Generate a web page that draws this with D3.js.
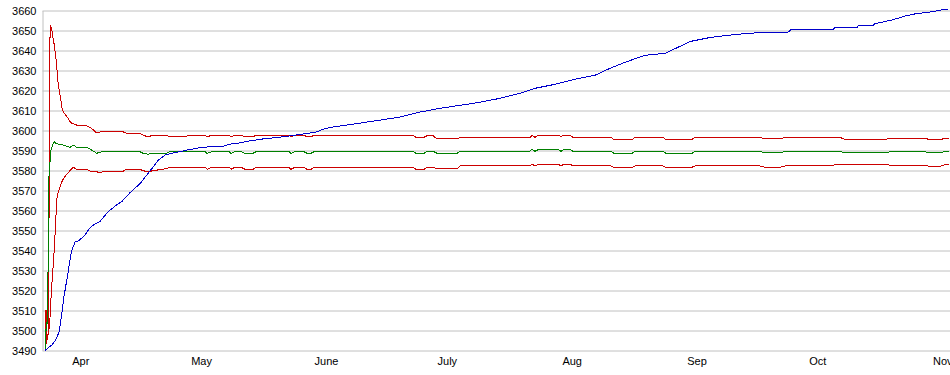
<!DOCTYPE html>
<html><head><meta charset="utf-8">
<script src="https://cdn.jsdelivr.net/npm/d3@7"></script>
<style>
body{margin:0;background:#fff}
svg{display:block}
text{font-family:"Liberation Sans",Arial,sans-serif;font-size:11px;fill:#000}
</style></head>
<body><svg id="c" width="950" height="375"></svg>
<script>
// ---- data (day offsets from start date, values) ----
const startDate = "2011-03-23";
const endDate = "2011-11-03";
const yTicks = [3490,3500,3510,3520,3530,3540,3550,3560,3570,3580,3590,3600,3610,3620,3630,3640,3650,3660];
const monthTicks = ["2011-04-01","2011-05-01","2011-06-01","2011-07-01","2011-08-01","2011-09-01","2011-10-01","2011-11-01"];
const monthLabels = ["Apr","May","June","July","Aug","Sep","Oct","Nov"];

const upperEarlyDays = [0.25,0.5,0.74,1.19,1.32,1.56,1.91,2.06,2.31,2.56,2.81,3.05,3.23,3.40,3.65,3.90,4.15,4.39,4.64,4.97,5.46,5.96,6.63,8.12,10.60,11.84,13.08,13.90,19.69,20.53];
const upperEarlyVals = [3490,3510,3495,3500,3631,3652.5,3651,3648.5,3645.5,3642.6,3638.6,3634.6,3630.1,3625.6,3621.6,3618.6,3615.6,3612.1,3610.1,3608.6,3607.6,3606.2,3603.9,3602.7,3602.3,3601.0,3598.8,3599.3,3599.3,3598.5];

const meanEarlyDays = [0.25,0.57,0.74,0.82,0.99,1.07,1.14,1.49,1.74,2.16,2.48,2.98,3.97,4.79,5.64,6.45,7.27,8.12,10.60,11.84,13.08,14.32];
const meanEarlyVals = [3490,3504,3500,3527,3527,3551,3574,3584.4,3590.2,3592.7,3594.4,3593.6,3593.0,3592.7,3592.2,3591.6,3592.7,3591.6,3591.6,3590.2,3588.6,3589.4];

const lowerEarlyDays = [0.25,0.62,0.99,1.42,1.61,1.86,2.11,2.31,2.61,2.81,3.15,3.55,4.15,4.64,5.46,6.45,7.27,8.12,10.60,11.42,13.08,13.90,14.72,19.69,20.53];
const lowerEarlyVals = [3490,3495,3498,3503,3512,3520,3528,3533,3543,3550.3,3565.3,3569.4,3572.8,3575.3,3577.7,3579.9,3581.6,3580.6,3580.6,3579.7,3579.4,3578.7,3579.7,3579.7,3580.6];

const bandDays = [23.83,24.58,25.82,27.06,30.29,31.28,39.97,40.47,41.71,45.93,46.43,47.42,48.91,49.90,51.89,52.63,60.82,61.32,62.31,64.55,65.29,66.29,67.03,91.61,92.35,94.34,95.08,96.57,97.57,102.53,103.28,120.66,121.15,121.90,122.89,127.61,128.35,129.10,130.59,131.33,140.77,141.51,145.98,146.72,153.67,154.42,160.87,161.62,177.76,179.00,182.72,183.96,197.62,198.86,208.79,210.03,218.72,219.96,222.44,223.44,224.68];
const upperVals = [3598.5,3597.7,3596.8,3597.7,3597.7,3596.8,3597.7,3596.8,3597.7,3597.7,3596.8,3597.7,3597.7,3596.8,3596.8,3597.7,3597.7,3596.8,3597.7,3597.7,3596.8,3596.8,3597.7,3597.7,3596.6,3596.6,3597.4,3597.4,3595.8,3595.8,3596.6,3596.6,3597.5,3596.6,3597.7,3597.7,3596.9,3597.7,3597.7,3596.6,3596.6,3595.5,3595.5,3596.6,3596.6,3595.5,3595.5,3596.6,3596.6,3595.8,3595.8,3596.6,3596.6,3595.5,3595.5,3596.2,3596.2,3595.3,3595.3,3596.0,3596.0];
const meanVals = [3589.4,3588.6,3588.1,3588.6,3588.6,3589.4,3589.4,3588.6,3589.4,3589.4,3588.6,3589.4,3589.4,3588.6,3588.6,3589.4,3589.4,3588.6,3589.4,3589.4,3588.6,3588.6,3589.4,3589.6,3588.6,3588.6,3589.6,3589.6,3588.6,3588.6,3589.6,3589.6,3590.6,3589.6,3590.6,3590.6,3589.6,3590.6,3590.6,3589.6,3589.6,3588.6,3588.6,3589.6,3589.6,3588.6,3588.6,3589.6,3589.6,3588.8,3588.8,3589.6,3589.6,3588.8,3588.8,3589.4,3589.4,3588.8,3588.8,3589.4,3589.4];
const lowerVals = [3580.6,3579.9,3579.4,3579.9,3580.9,3581.6,3581.6,3580.6,3581.6,3581.6,3580.6,3581.6,3581.6,3580.6,3580.6,3581.6,3581.6,3580.6,3581.6,3581.6,3580.6,3580.6,3581.6,3581.6,3580.6,3580.6,3581.6,3581.6,3580.9,3580.9,3582.3,3582.3,3583.2,3582.3,3583.2,3583.2,3582.3,3583.2,3583.2,3582.3,3582.3,3581.6,3581.6,3582.3,3582.3,3581.6,3581.6,3582.3,3582.3,3581.6,3581.6,3582.3,3582.8,3583.2,3583.2,3582.6,3582.6,3582.0,3582.0,3582.8,3582.8];

const blueDays = [0.25,1.07,1.91,2.73,3.30,3.80,4.22,4.54,4.97,5.46,5.88,6.28,6.63,7.13,7.70,8.52,9.36,10.18,11.00,11.84,12.66,13.90,15.96,18.05,19.29,21.35,23.83,25.50,27.14,28.38,30.04,31.70,33.76,35.43,39.15,44.51,46.18,48.66,51.14,54.44,57.77,61.07,65.22,67.70,69.34,71.00,78.45,83.42,88.38,93.35,98.31,103.28,108.24,113.21,118.17,121.90,126.86,131.83,136.79,140.52,144.24,149.21,154.17,157.40,160.38,165.34,171.55,177.76,184.71,185.45,195.88,196.38,201.84,202.08,205.81,206.30,208.54,210.77,212.51,213.75,216.24,220.21,222.94,224.43];
const blueVals = [3490,3491.4,3492.7,3494.7,3497.1,3499.6,3505.5,3510.5,3517.1,3522.9,3527.9,3532.9,3537.9,3541.2,3544.2,3544.8,3546.2,3547.8,3550.3,3552.0,3553.3,3554.5,3559.5,3562.8,3564.4,3568.9,3573.4,3577.7,3581.9,3585.2,3587.7,3588.6,3589.4,3590.2,3591.6,3592.2,3593.2,3593.8,3594.8,3595.8,3596.5,3597.3,3598.5,3599.3,3600.7,3601.5,3603.7,3605.2,3606.7,3609.2,3611.1,3612.6,3614.1,3616.1,3618.6,3621.1,3623.1,3625.6,3627.6,3631.1,3634.1,3637.6,3638.6,3641.6,3644.5,3646.5,3648.0,3649.0,3649.2,3650.4,3650.4,3651.4,3651.4,3652.4,3652.4,3653.4,3654.4,3655.4,3656.4,3657.2,3658.3,3659.3,3660.3,3660.3];

// ---- chart ----
const parse = d3.timeParse("%Y-%m-%d");
const start = parse(startDate);
const toDate = d => d3.timeMinute.offset(start, Math.round(d * 1440));
const mk = (days, vals) => days.map((d, i) => ({date: toDate(d), v: vals[i]}));

const svg = d3.select("#c");
const x = d3.scaleTime().domain([start, parse(endDate)]).range([44, 950.3]);
const y = d3.scaleLinear().domain([3490, 3660]).range([350.5, 10.5]);

const yAxis = svg.append("g").attr("transform", "translate(42.5,0)")
  .call(d3.axisLeft(y).tickValues(yTicks).tickSize(-910).tickSizeOuter(0).tickPadding(6).tickFormat(d3.format("d")));
yAxis.selectAll("line").attr("stroke", "#c0c0c0");
yAxis.select(".domain").attr("stroke", "#c0c0c0");
yAxis.selectAll("text").attr("font-size", 11).attr("font-family", null).attr("fill", "#000");

const xAxis = svg.append("g").attr("transform", "translate(0,350.5)")
  .call(d3.axisBottom(x).tickValues(monthTicks.map(parse)).tickFormat((d, i) => monthLabels[i]).tickSize(0).tickPadding(6.5));
xAxis.select(".domain").remove();
xAxis.selectAll("text").attr("font-size", 11).attr("font-family", null).attr("fill", "#000");

const line = d3.line().x(d => x(d.date)).y(d => y(d.v));
const series = [
  {data: mk(upperEarlyDays.concat(bandDays), upperEarlyVals.concat(upperVals)), color: "#cc0000"},
  {data: mk(lowerEarlyDays.concat(bandDays), lowerEarlyVals.concat(lowerVals)), color: "#cc0000"},
  {data: mk(meanEarlyDays.concat(bandDays), meanEarlyVals.concat(meanVals)), color: "#008000"},
  {data: mk(blueDays, blueVals), color: "#0000cc"}
];
svg.append("g").selectAll("path").data(series).join("path")
  .attr("d", s => line(s.data))
  .attr("fill", "none")
  .attr("stroke", s => s.color)
  .attr("stroke-width", 1)
  .attr("shape-rendering", "crispEdges");
</script></body></html>
